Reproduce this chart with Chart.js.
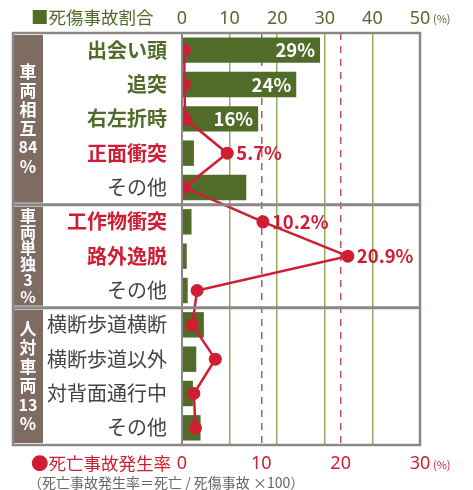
<!DOCTYPE html>
<html><head><meta charset="utf-8">
<script src="https://cdn.jsdelivr.net/npm/chart.js@4/dist/chart.umd.min.js"></script>
<style>html,body{margin:0;padding:0;background:#fff}#wrap{width:473px;height:490px}</style>
</head><body><div id="wrap"><canvas id="c"></canvas></div>
<script>
// rows, top to bottom
const categories = ['出会い頭', '追突', '右左折時', '正面衝突', 'その他', '工作物衝突', '路外逸脱', 'その他', '横断歩道横断', '横断歩道以外', '対背面通行中', 'その他'];
const injuryShare = [29, 24, 16, 2.5, 13.5, 2, 1, 1.2, 4.6, 3, 2.3, 3.9];       // 死傷事故割合 (%)
const fatalityRate = [0.3, 0.3, 0.4, 5.7, 0.3, 10.2, 20.9, 1.9, 1.3, 4.2, 1.5, 1.7]; // 死亡事故発生率 (%)
const shareLabels = ['29%', '24%', '16%', '', '', '', '', '', '', '', '', ''];
const rateLabels = ['', '', '', '5.7%', '', '10.2%', '20.9%', '', '', '', '', ''];
const labelKind = ['g', 'g', 'g', 'r', 'n', 'r', 'r', 'n', 'n', 'n', 'n', 'n'];
const groupNames = [['車', '両', '相', '互', '84', '%'], ['車', '両', '単', '独', '3', '%'], ['人', '対', '車', '両', '13', '%']];
const groupSizes = [5, 3, 4];

const GREEN = '#506c28';
const RED = '#cf1d34';
const GREY = '#8a8785';
const JP = "'Noto Sans CJK JP', sans-serif";

const decor = {
    id: 'decor',
    beforeDatasetsDraw(chart) {
        const { ctx, chartArea: a, scales: { y } } = chart;
        // group label boxes
        let start = 0;
        groupSizes.forEach((n, g) => {
            const top = start === 0 ? a.top : (y.getPixelForValue(start - 1) + y.getPixelForValue(start)) / 2;
            const end = start + n;
            const bot = end >= categories.length ? a.bottom : (y.getPixelForValue(end - 1) + y.getPixelForValue(end)) / 2;
            ctx.save();
            ctx.fillStyle = '#7e6b62';
            ctx.fillRect(13, top + 2, 30, bot - top - 4);
            const items = groupNames[g];
            const step = Math.min(19, (bot - top - 6) / items.length);
            const size = Math.min(17, step);
            const mid = (top + bot) / 2;
            ctx.fillStyle = '#fff';
            ctx.textAlign = 'center';
            ctx.textBaseline = 'middle';
            items.forEach((t, i) => {
                ctx.font = 'bold ' + (/\d/.test(t) ? Math.min(16, size) : size) + 'px ' + JP;
                ctx.fillText(t, 28, mid + (i - (items.length - 1) / 2) * step);
            });
            ctx.restore();
            start = end;
        });
    },
    afterDraw(chart) {
        const { ctx, chartArea: a, scales: { y } } = chart;
        ctx.save();
        // separators between groups
        ctx.strokeStyle = GREY;
        ctx.lineWidth = 3;
        let idx = 0;
        groupSizes.slice(0, -1).forEach(n => {
            idx += n;
            const yy = (y.getPixelForValue(idx - 1) + y.getPixelForValue(idx)) / 2;
            ctx.beginPath();
            ctx.moveTo(13, yy);
            ctx.lineTo(a.right, yy);
            ctx.stroke();
        });
        // frame
        ctx.lineWidth = 2.5;
        ctx.strokeRect(13, a.top, a.right - 13, a.bottom - a.top);
        ctx.lineWidth = 2;
        ctx.beginPath();
        ctx.moveTo(a.left, a.top);
        ctx.lineTo(a.left, a.bottom);
        ctx.stroke();

        // value labels
        const bars = chart.getDatasetMeta(1).data;
        ctx.font = 'bold 18.5px ' + JP;
        ctx.fillStyle = '#fff';
        ctx.textAlign = 'right';
        ctx.textBaseline = 'middle';
        bars.forEach((b, i) => { if (shareLabels[i]) ctx.fillText(shareLabels[i], b.x - 5, b.y); });
        const pts = chart.getDatasetMeta(0).data;
        ctx.fillStyle = RED;
        ctx.textAlign = 'left';
        pts.forEach((p, i) => { if (rateLabels[i]) ctx.fillText(rateLabels[i], p.x + 9, p.y); });

        // legends and units
        ctx.font = '17.5px ' + JP;
        ctx.fillStyle = GREEN;
        ctx.fillText('■死傷事故割合', 31, 17);
        ctx.fillStyle = RED;
        ctx.fillText('●死亡事故発生率', 31, 463);
        ctx.font = '11px ' + JP;
        ctx.fillStyle = GREEN;
        ctx.fillText('(%)', 433, 19);
        ctx.fillStyle = RED;
        ctx.fillText('(%)', 433, 465);
        ctx.font = '14px ' + JP;
        ctx.fillStyle = '#666';
        ctx.fillText('（死亡事故発生率＝死亡 / 死傷事故 ×100）', 28, 483);
        ctx.restore();
    }
};

new Chart(document.getElementById('c'), {
    data: {
        labels: categories,
        datasets: [{
            type: 'line',
            data: fatalityRate,
            xAxisID: 'x2',
            yAxisID: 'y',
            borderColor: RED,
            backgroundColor: RED,
            borderWidth: 2.5,
            pointRadius: 6.5,
            pointBackgroundColor: RED,
            pointBorderWidth: 0,
            order: 0
        }, {
            type: 'bar',
            data: injuryShare,
            xAxisID: 'x',
            yAxisID: 'y',
            backgroundColor: GREEN,
            categoryPercentage: 1,
            barPercentage: 0.74,
            order: 1
        }]
    },
    options: {
        indexAxis: 'y',
        responsive: true,
        maintainAspectRatio: false,
        animation: false,
        layout: { padding: { left: 12, right: 53, top: 0, bottom: 0 } },
        plugins: { legend: { display: false }, tooltip: { enabled: false } },
        scales: {
            y: {
                type: 'category',
                grid: { display: false },
                border: { display: false },
                ticks: {
                    padding: 7,
                    color: c => labelKind[c.index] === 'g' ? GREEN : labelKind[c.index] === 'r' ? RED : '#444',
                    font: c => ({ family: JP, size: 20, weight: labelKind[c.index] === 'n' ? 'normal' : 'bold' })
                },
                afterFit: s => { s.width = 170; }
            },
            x: {
                type: 'linear',
                position: 'top',
                min: 0,
                max: 50,
                ticks: { stepSize: 10, color: GREEN, padding: 3, font: { family: "'Noto Sans', sans-serif", size: 18 } },
                grid: {
                    drawTicks: false,
                    lineWidth: 1.5,
                    color: c => (c.tick && (c.tick.value === 0 || c.tick.value === 50)) ? 'rgba(0,0,0,0)' : '#8fae62'
                },
                border: { display: false },
                afterFit: s => { s.height = 33; }
            },
            x2: {
                type: 'linear',
                position: 'bottom',
                min: 0,
                max: 30,
                ticks: { stepSize: 10, color: RED, padding: 8, font: { family: "'Noto Sans', sans-serif", size: 18 } },
                grid: {
                    drawTicks: false,
                    lineWidth: 1.5,
                    color: c => (c.tick && (c.tick.value === 0 || c.tick.value === 30)) ? 'rgba(0,0,0,0)' : '#c0545f'
                },
                border: { display: false, dash: [7, 6] },
                afterFit: s => { s.height = 45; }
            }
        }
    },
    plugins: [decor]
});
</script>
</body></html>
